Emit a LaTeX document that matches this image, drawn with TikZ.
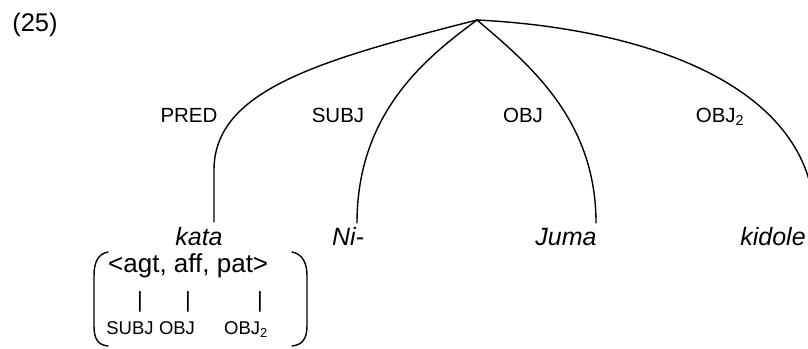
\documentclass[tikz,border=0pt]{standalone}
\usepackage{fontspec}
\setmainfont{Liberation Sans}
\begin{document}
\begin{tikzpicture}[x=1pt,y=-1pt,
  word/.style={font=\fontsize{25}{30}\selectfont\itshape, anchor=base, inner sep=0pt},
  rel/.style={font=\fontsize{20.5}{24}\selectfont, anchor=base, inner sep=0pt},
  argline/.style={font=\fontsize{26}{30}\selectfont, anchor=base west, inner sep=0pt},
  fn/.style={font=\fontsize{18.5}{22}\selectfont, anchor=base, inner sep=0pt},
  fnw/.style={fn, anchor=base west},
  barmark/.style={font=\fontsize{22}{25}\selectfont, inner sep=0pt},
  link/.style={line width=1.4pt, line cap=round},
  paren/.style={line width=1.4pt, line cap=round}]
\useasboundingbox (0,0) rectangle (808,348);

% example number
\node[font=\fontsize{25.5}{30}\selectfont, anchor=base, inner sep=0pt] (num) at (35,31) {(25)};

% root of the f-structure tree and the ends of its branches
\coordinate (root) at (477,20);
\coordinate (kataTop) at (214,222);
\coordinate (niTop) at (357,223);
\coordinate (jumaTop) at (596,223);
\coordinate (kidoleTop) at (815,222);

% words
\node[word] (kata) at (199,245) {kata};
\node[word] (ni) at (348,245) {Ni-};
\node[word] (juma) at (566,245) {Juma};
\node[word] (kidole) at (773,245) {kidole};

% grammatical function labels
\node[rel] (pred) at (189,122) {PRED};
\node[rel] (subj) at (338,122) {SUBJ};
\node[rel] (obj) at (523,122) {OBJ};
\node[rel] (objtwo) at (720,122) {OBJ\textsubscript{2}};

% branches
\begin{scope}
  \clip (0,0) rectangle (808,348);
  \draw[link] (root) .. controls (320,60) and (214,90) .. (214,170) -- (kataTop);
  \draw[link] (root) .. controls (430,55) and (357,110) .. (niTop);
  \draw[link] (root) .. controls (530,65) and (596,120) .. (jumaTop);
  \draw[link] (root) .. controls (640,28) and (815,83) .. (kidoleTop);
\end{scope}

% argument structure of the verb
\node[argline] (args) at (108,272) {<agt, aff, pat>};
\node[barmark] (barA) at (140,302) {|};
\node[barmark] (barB) at (188,302) {|};
\node[barmark] (barC) at (260,302) {|};
\node[fn] (fSubj) at (130,334) {SUBJ};
\node[fn] (fObj) at (177,334) {OBJ};
\node[fnw] (fObjTwo) at (224,334) {OBJ\textsubscript{2}};

% enclosing parentheses
\draw[paren] (108,252) .. controls (98,254) and (94,262) .. (94,276) -- (94,326)
  .. controls (94,339) and (98,345) .. (108,346);
\draw[paren] (292,252) .. controls (302,254) and (307,262) .. (307,276) -- (307,326)
  .. controls (307,339) and (302,345) .. (292,346);
\end{tikzpicture}
\end{document}
